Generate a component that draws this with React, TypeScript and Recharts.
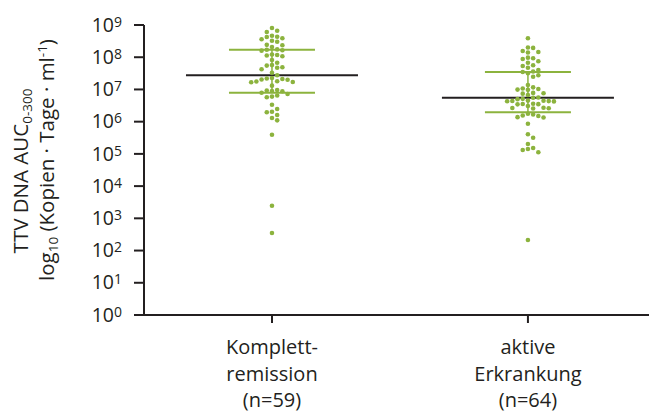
import React from "react";
import {
  ScatterChart,
  Scatter,
  XAxis,
  YAxis,
  ReferenceLine,
} from "recharts";

// TTV DNA AUC per patient (copies * days / ml)
const remissionValues = [
  8.07e8, 6.65e8, 6.07e8, 4.66e8, 4.34e8, 4.24e8, 3.87e8, 3.6e8, 3.26e8, 3.03e8,
  2.42e8, 2.36e8, 2.08e8, 1.75e8, 1.7e8, 1.65e8, 1.6e8, 1.21e8, 1.17e8, 1.13e8,
  1.07e8, 8.2e7, 6.76e7, 5.7e7, 5.5e7, 4.86e7, 4.73e7, 4.22e7, 3.31e7, 2.75e7,
  2.27e7, 2.19e7, 2.11e7, 2.03e7, 2.0e7, 1.79e7, 1.76e7, 1.7e7, 1.68e7, 1.31e7,
  9.6e6, 9.3e6, 8.95e6, 8.75e6, 7.9e6, 7.2e6, 6.5e6, 6.0e6, 5.7e6, 3.36e6,
  2.47e6, 2.04e6, 1.95e6, 1.61e6, 1.3e6, 1.1e6, 3.94e5, 2.47e3, 350,
];

const activeValues = [
  3.87e8, 2.0e8, 1.95e8, 1.56e8, 1.45e8, 1.4e8, 9.7e7, 9.25e7, 8.8e7, 7.47e7,
  6.76e7, 5.61e7, 5.33e7, 4.73e7, 4.01e7, 3.6e7, 3.48e7, 3.17e7, 2.75e7, 2.49e7,
  1.37e7, 1.16e7, 1.07e7, 1.03e7, 9.9e6, 9.7e6, 7.8e6, 7.6e6, 7.4e6, 6.7e6,
  5.6e6, 5.5e6, 5.1e6, 5.0e6, 4.5e6, 4.45e6, 4.4e6, 4.35e6, 4.3e6, 4.25e6,
  3.6e6, 3.55e6, 3.5e6, 3.45e6, 3.06e6, 2.7e6, 2.65e6, 2.6e6, 2.55e6, 1.77e6,
  1.67e6, 1.55e6, 1.5e6, 1.38e6, 1.35e6, 8.65e5, 4.05e5, 3.18e5, 2.03e5, 1.52e5,
  1.42e5, 1.32e5, 1.12e5, 212,
];

const categoryLabels = [
  ["Komplett-", "remission", "(n=59)"],
  ["aktive", "Erkrankung", "(n=64)"],
];

const medians = [2.75e7, 5.5e6];
const upperQuartiles = [1.7e8, 3.5e7];
const lowerQuartiles = [7.9e6, 1.95e6];

const yTicks = [1, 1e1, 1e2, 1e3, 1e4, 1e5, 1e6, 1e7, 1e8, 1e9];
const xTicks = [1, 2];

const GREEN = "#8cb33e";
const INK = "#231f20";
const FONT = "'Open Sans', 'Noto Sans', sans-serif";

const WIDTH = 649;
const HEIGHT = 414;
const TOP = 25;
const Y_AXIS_W = 144;
const X_AXIS_H = 99;
const X_DOMAIN: [number, number] = [0.5, 2.473];

const PLOT_H = HEIGHT - TOP - X_AXIS_H;
const PX_PER_DECADE = PLOT_H / 9;
const PX_PER_UNIT = (WIDTH - Y_AXIS_W) / (X_DOMAIN[1] - X_DOMAIN[0]);
const DOT_STEP = 5.2; // px between dot columns
const MIN_GAP = 4.8; // px, vertical clearance inside a column

// simple column beeswarm: each dot goes to the nearest free column
function swarm(values: number[], group: number) {
  const placed: { col: number; py: number }[] = [];
  return [...values]
    .sort((a, b) => b - a)
    .map((v) => {
      const py = -Math.log10(v) * PX_PER_DECADE;
      let k = 0;
      for (;;) {
        const col = k === 0 ? 0 : k % 2 ? (k + 1) / 2 : -k / 2;
        if (!placed.some((p) => p.col === col && Math.abs(p.py - py) < MIN_GAP)) {
          placed.push({ col, py });
          return { x: group + (col * DOT_STEP) / PX_PER_UNIT, y: v };
        }
        k++;
      }
    });
}

const remissionDots = swarm(remissionValues, 1);
const activeDots = swarm(activeValues, 2);

const Dot = (props: any) => (
  <circle cx={props.cx} cy={props.cy} r={2.3} fill={GREEN} />
);

const YTick = ({ x, y, payload }: any) => {
  const exp = Math.round(Math.log10(payload.value));
  return (
    <text
      x={x - 12}
      y={y + 6.7}
      textAnchor="end"
      fontFamily={FONT}
      fontSize={19.5}
      fill={INK}
    >
      10
      <tspan dy={-5} fontSize={14}>
        {exp}
      </tspan>
    </text>
  );
};

const XTick = ({ x, payload }: any) => {
  const lines = categoryLabels[payload.value - 1] || [];
  return (
    <g>
      {lines.map((l, i) => (
        <text
          key={i}
          x={x}
          y={354 + i * 26.5}
          textAnchor="middle"
          fontFamily={FONT}
          fontSize={20}
          fill={INK}
        >
          {l}
        </text>
      ))}
    </g>
  );
};

const YTitle = () => (
  <g fontFamily={FONT} fill={INK}>
    <text
      x={28}
      y={171}
      transform="rotate(-90 28 171)"
      textAnchor="middle"
      fontSize={20.5}
    >
      TTV DNA AUC
      <tspan dy={4} fontSize={13.5}>
        0-300
      </tspan>
    </text>
    <text
      x={54}
      y={160}
      transform="rotate(-90 54 160)"
      textAnchor="middle"
      fontSize={20.5}
    >
      log
      <tspan dy={4} fontSize={13.5}>
        10
      </tspan>
      <tspan dy={-4}> (Kopien · Tage · ml</tspan>
      <tspan dy={-7} fontSize={13.5}>
        -1
      </tspan>
      <tspan dy={7}>)</tspan>
    </text>
  </g>
);

export default function App() {
  return (
    <div style={{ position: "absolute", left: 0, top: 0, background: "#fff" }}>
      <ScatterChart
        width={WIDTH}
        height={HEIGHT}
        margin={{ top: TOP, right: 0, bottom: 0, left: 0 }}
      >
        <XAxis
          type="number"
          dataKey="x"
          domain={X_DOMAIN}
          ticks={xTicks}
          allowDataOverflow
          height={X_AXIS_H}
          tickSize={8}
          axisLine={{ stroke: INK, strokeWidth: 2 }}
          tickLine={{ stroke: INK, strokeWidth: 2 }}
          tick={<XTick />}
        />
        <YAxis
          type="number"
          dataKey="y"
          scale="log"
          domain={[1, 1e9]}
          ticks={yTicks}
          allowDataOverflow
          width={Y_AXIS_W}
          tickSize={10}
          tickMargin={0}
          axisLine={{ stroke: INK, strokeWidth: 2 }}
          tickLine={{ stroke: INK, strokeWidth: 2 }}
          tick={<YTick />}
          label={<YTitle />}
        />
        <Scatter data={remissionDots} shape={Dot} isAnimationActive={false} />
        <Scatter data={activeDots} shape={Dot} isAnimationActive={false} />
        {medians.map((m, i) => (
          <ReferenceLine
            key={"iqr" + i}
            segment={[
              { x: i + 1, y: lowerQuartiles[i] },
              { x: i + 1, y: upperQuartiles[i] },
            ]}
            stroke={GREEN}
            strokeWidth={1.5}
            ifOverflow="visible"
          />
        ))}
        {upperQuartiles.map((q, i) => (
          <ReferenceLine
            key={"q3" + i}
            segment={[
              { x: i + 1 - 0.168, y: q },
              { x: i + 1 + 0.168, y: q },
            ]}
            stroke={GREEN}
            strokeWidth={2}
            ifOverflow="visible"
          />
        ))}
        {lowerQuartiles.map((q, i) => (
          <ReferenceLine
            key={"q1" + i}
            segment={[
              { x: i + 1 - 0.168, y: q },
              { x: i + 1 + 0.168, y: q },
            ]}
            stroke={GREEN}
            strokeWidth={2}
            ifOverflow="visible"
          />
        ))}
        {medians.map((m, i) => (
          <ReferenceLine
            key={"med" + i}
            segment={[
              { x: i + 1 - 0.336, y: m },
              { x: i + 1 + 0.336, y: m },
            ]}
            stroke={INK}
            strokeWidth={2}
            ifOverflow="visible"
          />
        ))}
      </ScatterChart>
    </div>
  );
}
